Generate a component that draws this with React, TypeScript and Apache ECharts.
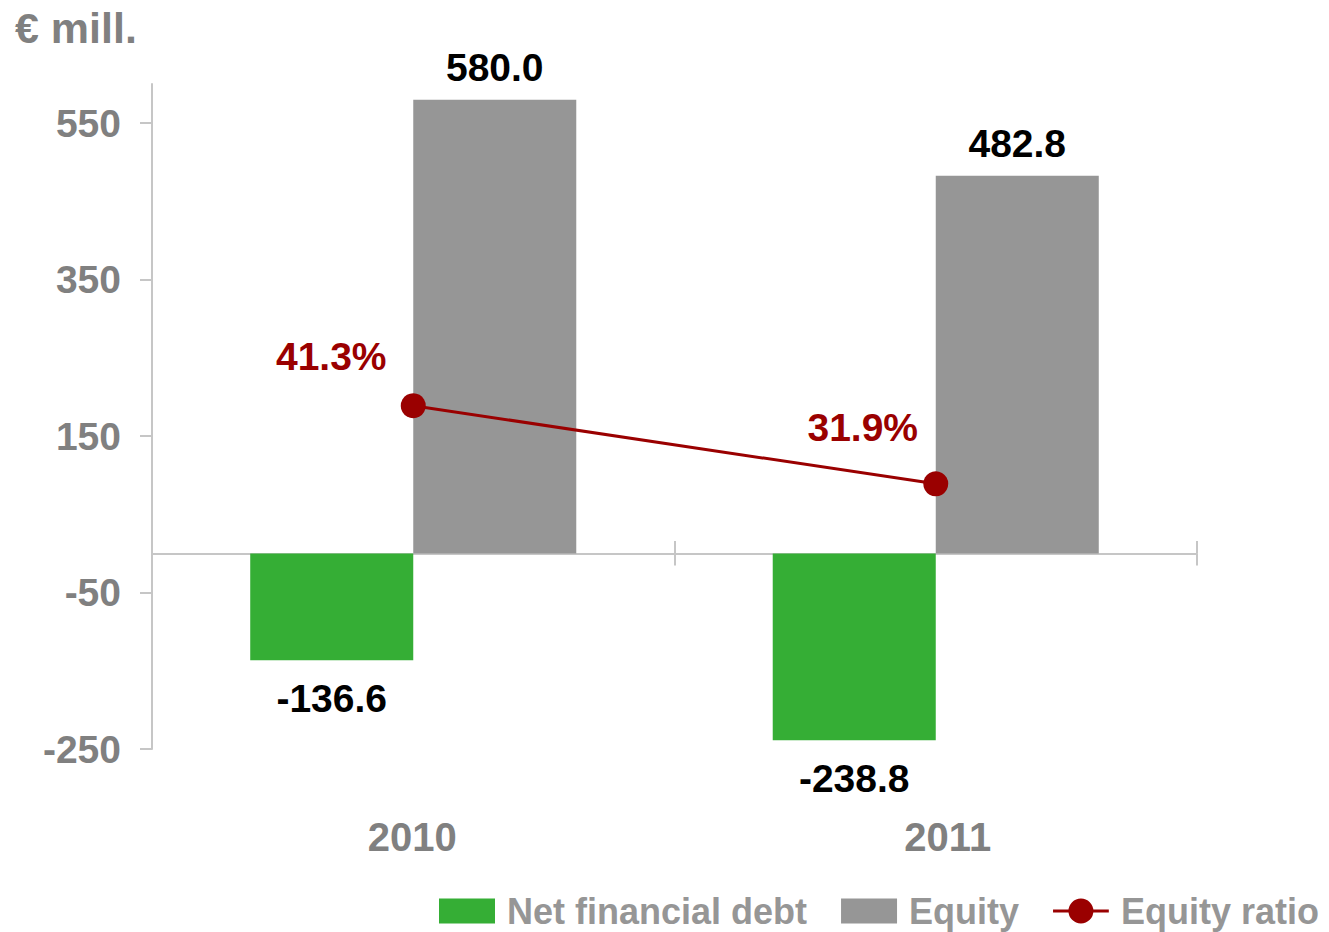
import React, { useEffect, useRef } from "react";
import * as echarts from "echarts";

const categories = ["2010", "2011"];
const netFinancialDebt = [-136.6, -238.8];
const equity = [580.0, 482.8];
const equityRatio = [41.3, 31.9];
const yTickValues = [-250, -50, 150, 350, 550];

const FONT = "'Liberation Sans', Arial, sans-serif";
const ratioLabelOffsets = [
  [-82, -49],
  [-73, -56],
];
const LINE_LEGEND_ICON =
  "path://M0 11.5H58V14.5H0Z M16 13A13 13 0 1 1 42 13A13 13 0 1 1 16 13Z";

export default function App() {
  const ref = useRef<HTMLDivElement>(null);
  useEffect(() => {
    if (!ref.current) return;
    const chart = echarts.init(ref.current, null, { renderer: "svg" });
    const axisGray = "#c6c6c6";
    const red = "#9A0000";
    const catLabelStyle = { fontFamily: FONT, fontSize: 40, fontWeight: "bold", color: "#808080" };
    const option: any = {
      animation: false,
      textStyle: { fontFamily: FONT },
      title: {
        text: "€ mill.",
        left: 10,
        top: 1,
        textStyle: { fontFamily: FONT, fontSize: 43, fontWeight: "bold", color: "#808080" },
      },
      grid: { left: 152, right: 132, top: 84, bottom: 183 },
      legend: {
        left: 439,
        top: 893,
        width: 920,
        padding: 0,
        itemWidth: 56,
        itemHeight: 25,
        itemGap: 34,
        textStyle: { fontFamily: FONT, fontSize: 36, fontWeight: "bold", color: "#969696", padding: [0, 0, 0, 7] },
        data: [
          { name: "Net financial debt", icon: "rect" },
          { name: "Equity", icon: "rect" },
          { name: "Equity ratio", icon: LINE_LEGEND_ICON, itemStyle: { color: red, borderWidth: 0 } },
        ],
      },
      xAxis: [
        {
          type: "category",
          data: categories,
          axisLine: { show: true, onZero: true, lineStyle: { color: axisGray, width: 2 } },
          axisTick: { show: true, length: 12, lineStyle: { color: axisGray, width: 2 } },
          axisLabel: { show: false },
        },
        {
          type: "category",
          data: categories,
          position: "top",
          offset: -469,
          axisLine: { show: false, onZero: false },
          axisTick: { show: true, length: 12, lineStyle: { color: axisGray, width: 2 } },
          axisLabel: { show: false },
        },
        {
          type: "category",
          data: categories,
          position: "bottom",
          axisLine: { show: false, onZero: false },
          axisTick: { show: false },
          axisLabel: {
            margin: 68,
            ...catLabelStyle,
            formatter: (v: string, i: number) => (i === 1 ? `{s|${v}}` : `{n|${v}}`),
            rich: {
              n: { ...catLabelStyle, padding: [0, 2, 0, 0] },
              s: { ...catLabelStyle, padding: [0, 0, 0, 24] },
            },
          },
        },
      ],
      yAxis: [
        {
          type: "value",
          min: -250,
          max: 600,
          splitLine: { show: false },
          axisLine: { show: true, lineStyle: { color: axisGray, width: 2 } },
          axisTick: { show: true, length: 12, customValues: yTickValues, lineStyle: { color: axisGray, width: 2 } },
          axisLabel: {
            customValues: yTickValues,
            margin: 31,
            fontFamily: FONT,
            fontSize: 39,
            fontWeight: "bold",
            color: "#808080",
          },
        },
        { type: "value", min: 0, max: 80, show: false },
      ],
      series: [
        {
          name: "Net financial debt",
          type: "bar",
          data: netFinancialDebt,
          barGap: "0%",
          barCategoryGap: "37.6%",
          itemStyle: { color: "#35AE35" },
          label: {
            show: true,
            position: "bottom",
            distance: 19,
            fontFamily: FONT,
            fontSize: 39,
            fontWeight: "bold",
            color: "#000000",
            formatter: (p: any) => p.value.toFixed(1),
          },
        },
        {
          name: "Equity",
          type: "bar",
          data: equity,
          barGap: "0%",
          barCategoryGap: "37.6%",
          itemStyle: { color: "#969696" },
          label: {
            show: true,
            position: "top",
            distance: 13,
            fontFamily: FONT,
            fontSize: 39,
            fontWeight: "bold",
            color: "#000000",
            formatter: (p: any) => p.value.toFixed(1),
          },
        },
        {
          name: "Equity ratio",
          type: "line",
          yAxisIndex: 1,
          data: equityRatio.map((v, i) => ({
            value: v,
            label: { offset: ratioLabelOffsets[i] },
          })),
          symbol: "circle",
          symbolSize: 25,
          lineStyle: { color: red, width: 3 },
          itemStyle: { color: red },
          label: {
            show: true,
            position: "inside",
            fontFamily: FONT,
            fontSize: 39,
            fontWeight: "bold",
            color: red,
            formatter: (p: any) => p.value.toFixed(1) + "%",
          },
        },
      ],
    };
    chart.setOption(option);
    return () => chart.dispose();
  }, []);
  return (
    <div
      ref={ref}
      style={{ position: "fixed", left: 0, top: 0, width: 1329, height: 932, background: "#ffffff" }}
    />
  );
}
